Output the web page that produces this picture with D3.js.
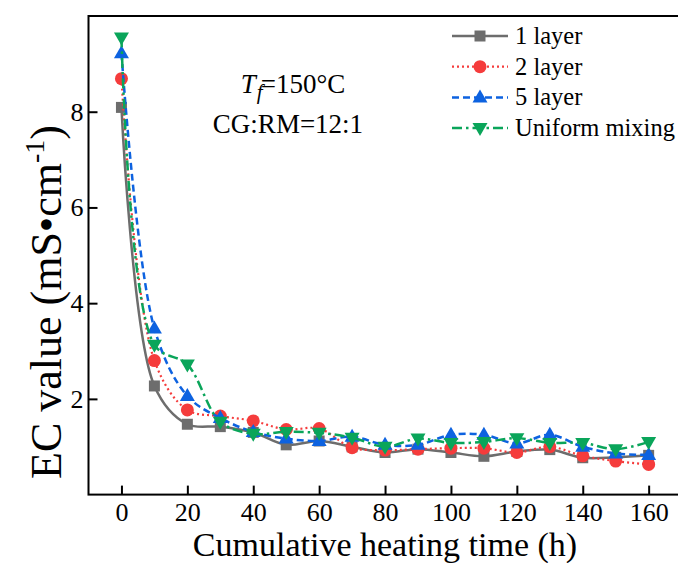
<!DOCTYPE html>
<html>
<head>
<meta charset="utf-8">
<script src="https://cdn.jsdelivr.net/npm/d3@7"></script>
<style>
  html, body { margin: 0; padding: 0; background: #fff; }
  svg { display: block; }
</style>
</head>
<body>
<div id="chart"></div>
<script>
// data
const hours = [0, 10, 20, 30, 40, 50, 60, 70, 80, 90, 100, 110, 120, 130, 140, 150, 160];
const layer1 = [8.09, 2.27, 1.47, 1.42, 1.30, 1.04, 1.12, 1.00, 0.88, 0.95, 0.88, 0.80, 0.90, 0.94, 0.77, 0.78, 0.82];
const layer2 = [8.69, 2.80, 1.77, 1.64, 1.54, 1.36, 1.38, 0.98, 0.93, 0.95, 0.97, 0.97, 0.88, 1.00, 0.81, 0.70, 0.63];
const layer5 = [9.22, 3.47, 2.06, 1.60, 1.31, 1.17, 1.12, 1.21, 1.04, 1.04, 1.25, 1.25, 1.07, 1.25, 1.00, 0.86, 0.83];
const uniform = [9.55, 3.13, 2.72, 1.52, 1.27, 1.31, 1.29, 1.19, 1.00, 1.17, 1.08, 1.10, 1.18, 1.08, 1.08, 0.95, 1.10];
const seriesNames = ["1 layer", "2 layer", "5 layer", "Uniform mixing"];
const xTicks = [0, 20, 40, 60, 80, 100, 120, 140, 160];
const yTicks = [2, 4, 6, 8];

const WIDTH = 678, HEIGHT = 563;
const MARGIN = { left: 88.5, top: 16, right: -3.6, bottom: 68.4 };
const FONT = "'Liberation Serif', 'Times New Roman', serif";

const styles = [
  { color: "#6d6d6d", dash: null, width: 2.5, marker: "square" },
  { color: "#f53c3c", dash: "2,3", width: 2.2, marker: "circle" },
  { color: "#0d62e0", dash: "7,4", width: 2.5, marker: "up" },
  { color: "#0aa55a", dash: "10,4,2.5,4", width: 2.5, marker: "down" }
];
const allValues = [layer1, layer2, layer5, uniform];

const svg = d3.select("#chart").append("svg")
  .attr("width", WIDTH).attr("height", HEIGHT)
  .style("font-family", FONT);

const x = d3.scaleLinear().domain([-10, 170]).range([MARGIN.left, WIDTH - MARGIN.right]);
const y = d3.scaleLinear().domain([0, 10]).range([HEIGHT - MARGIN.bottom, MARGIN.top]);

// axes (ticks inward)
svg.append("g")
  .attr("transform", `translate(0,${y(0)})`)
  .call(d3.axisBottom(x).tickValues(xTicks).tickSize(-9).tickPadding(8).tickFormat(d3.format("d")))
  .call(g => g.select(".domain").remove())
  .call(g => g.selectAll(".tick line").attr("stroke", "#000").attr("stroke-width", 2))
  .call(g => g.selectAll(".tick text").attr("font-size", 26).attr("font-family", FONT).attr("fill", "#000"));

svg.append("g")
  .attr("transform", `translate(${x(-10)},0)`)
  .call(d3.axisLeft(y).tickValues(yTicks).tickSize(-9).tickPadding(5).tickFormat(d3.format("d")))
  .call(g => g.select(".domain").remove())
  .call(g => g.selectAll(".tick line").attr("stroke", "#000").attr("stroke-width", 2))
  .call(g => g.selectAll(".tick text").attr("font-size", 26).attr("font-family", FONT).attr("fill", "#000"));

// frame
svg.append("rect")
  .attr("x", x(-10)).attr("y", y(10))
  .attr("width", x(170) - x(-10)).attr("height", y(0) - y(10))
  .attr("fill", "none").attr("stroke", "#000").attr("stroke-width", 2);

function markerPath(type) {
  if (type === "square") return "M-5.5,-5.5H5.5V5.5H-5.5Z";
  if (type === "circle") return "M6.5,0A6.5,6.5 0 1,1 -6.5,0A6.5,6.5 0 1,1 6.5,0Z";
  if (type === "up") return "M0,-8L7.5,5L-7.5,5Z";
  return "M0,8L7.5,-5L-7.5,-5Z";
}

const line = d3.line()
  .x(d => x(d[0]))
  .y(d => y(d[1]))
  .curve(d3.curveCatmullRom.alpha(0.5));

allValues.forEach((vals, i) => {
  const st = styles[i];
  const pts = hours.map((h, j) => [h, vals[j]]);
  const g = svg.append("g");
  g.append("path")
    .datum(pts)
    .attr("d", line)
    .attr("fill", "none")
    .attr("stroke", st.color)
    .attr("stroke-width", st.width)
    .attr("stroke-dasharray", st.dash);
  g.selectAll("path.m")
    .data(pts)
    .enter().append("path")
    .attr("class", "m")
    .attr("d", markerPath(st.marker))
    .attr("transform", d => `translate(${x(d[0])},${y(d[1])})`)
    .attr("fill", st.color);
});

// legend
const legend = svg.append("g");
seriesNames.forEach((name, i) => {
  const st = styles[i];
  const ly = 36 + i * 30.7;
  legend.append("line")
    .attr("x1", 452).attr("x2", 508).attr("y1", ly).attr("y2", ly)
    .attr("stroke", st.color).attr("stroke-width", st.width)
    .attr("stroke-dasharray", st.dash);
  legend.append("path")
    .attr("d", markerPath(st.marker))
    .attr("transform", `translate(480,${ly})`)
    .attr("fill", st.color);
  legend.append("text")
    .attr("x", 515).attr("y", ly + 8)
    .attr("font-size", 24.5)
    .attr("fill", "#000")
    .text(name);
});

// annotation
const ann = svg.append("text")
  .attr("x", 293).attr("y", 93)
  .attr("text-anchor", "middle")
  .attr("font-size", 27)
  .attr("fill", "#000");
ann.append("tspan").attr("font-style", "italic").text("T");
ann.append("tspan").attr("font-style", "italic").attr("font-size", 21).attr("dy", 6).attr("dx", 1).text("f");
ann.append("tspan").attr("dy", -6).attr("dx", -2).text("=150\u00B0C");

svg.append("text")
  .attr("x", 288).attr("y", 133)
  .attr("text-anchor", "middle")
  .attr("font-size", 27)
  .attr("fill", "#000")
  .text("CG:RM=12:1");

// axis titles
svg.append("text")
  .attr("x", 385).attr("y", 556)
  .attr("text-anchor", "middle")
  .attr("font-size", 34)
  .attr("fill", "#000")
  .text("Cumulative heating time (h)");

const yt = svg.append("text")
  .attr("transform", "translate(61,302) rotate(-90)")
  .attr("text-anchor", "middle")
  .attr("font-size", 44)
  .attr("fill", "#000");
yt.append("tspan").text("EC value (mS\u2022cm");
yt.append("tspan").attr("font-size", 28).attr("dy", -17).text("-1");
yt.append("tspan").attr("dy", 17).text(")");
</script>
</body>
</html>
